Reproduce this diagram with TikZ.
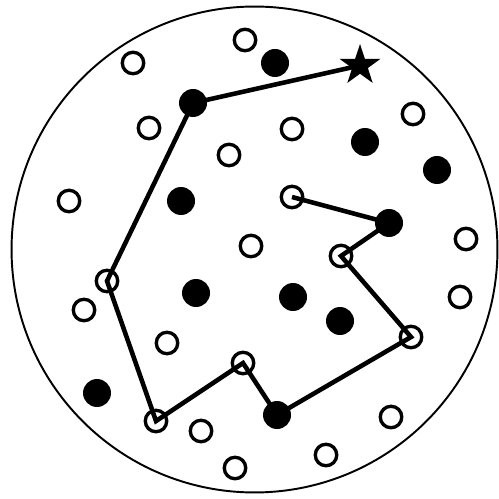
\documentclass[tikz,border=0pt]{standalone}
\usetikzlibrary{shapes.geometric}
\begin{document}
\begin{tikzpicture}[x=0.02cm, y=-0.02cm,
  opendot/.style={circle, draw, line width=1.9pt, minimum size=0.43cm, inner sep=0pt},
  fulldot/.style={circle, fill, minimum size=0.56cm, inner sep=0pt},
  goal/.style={star, star points=5, star point ratio=2.6, fill, minimum size=0.86cm, inner sep=0pt}]
  \useasboundingbox (0,0) rectangle (498,499);
  % Region
  \node[circle, draw, line width=1.1pt, minimum size=9.72cm, inner sep=0pt] (area) at (254.5,249.5) {};
  % Free dots
  \foreach \x/\y [count=\i] in {245/40,133/63,149/128,292/129,413/114,229/155,69/201,466/239,
      251/246,84/310,460/297,167/343,391/417,201/431,326/455,235/468}
    \node[opendot] (o\i) at (\x,\y) {};
  \foreach \x/\y [count=\i] in {275/63,365/142,437/170,181/201,196/293,293/297,340/321,97/393}
    \node[fulldot] (f\i) at (\x,\y) {};
  % Path dots
  \node[opendot] (p1) at (292,197) {};
  \node[fulldot] (p2) at (389,223) {};
  \node[opendot] (p3) at (341,256) {};
  \node[opendot] (p4) at (411,337) {};
  \node[fulldot] (p5) at (277,415) {};
  \node[opendot] (p6) at (243,363) {};
  \node[opendot] (p7) at (156,421) {};
  \node[opendot] (p8) at (107,281) {};
  \node[fulldot] (p9) at (193,103) {};
  \node[goal] (target) at (360,65.5) {};
  \draw[line width=2.6pt] (p1.center) -- (p2.center) -- (p3.center) -- (p4.center) -- (p5.center)
    -- (p6.center) -- (p7.center) -- (p8.center) -- (p9.center) -- (target.center);
\end{tikzpicture}
\end{document}
